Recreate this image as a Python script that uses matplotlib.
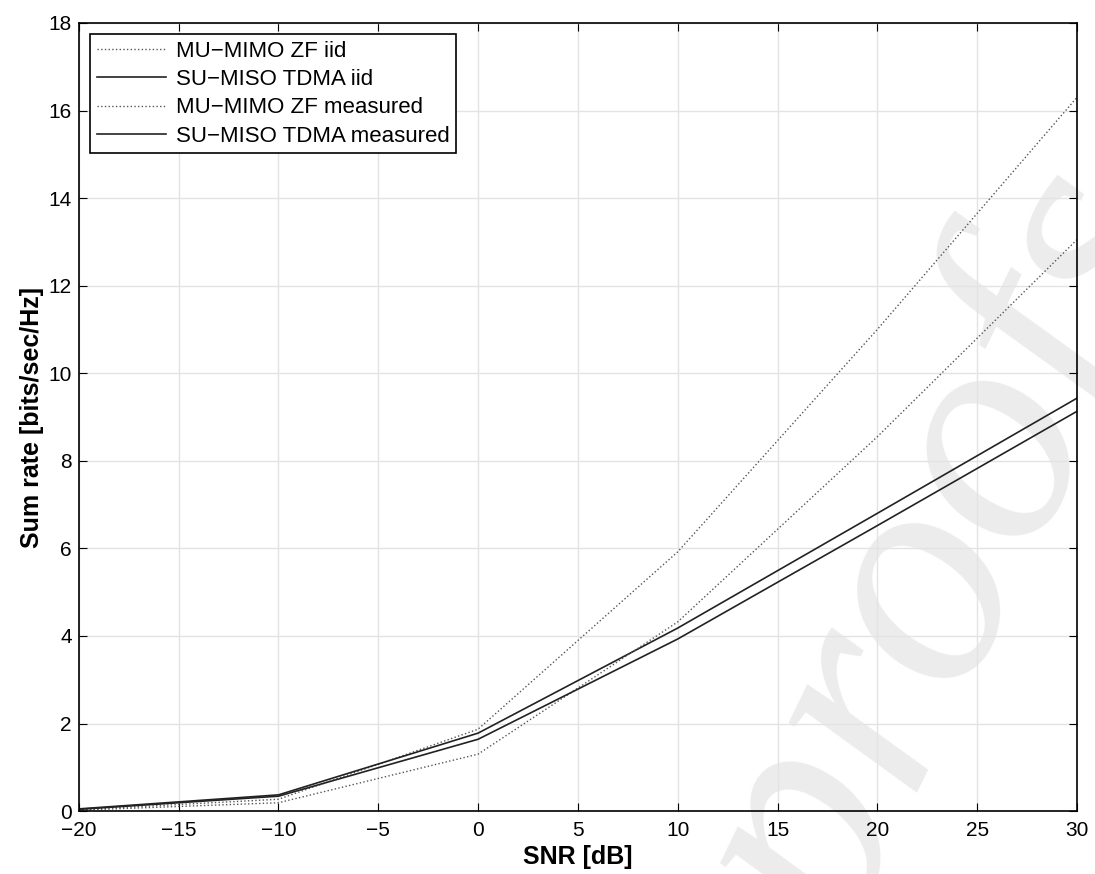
import numpy as np
import matplotlib.pyplot as plt

plt.rcParams['font.family'] = ['Liberation Sans', 'DejaVu Sans']

snr = [-20, -10, 0, 10, 20, 30]
mu_zf_iid = [0.03, 0.27, 1.87, 5.92, 11.0, 16.3]
su_tdma_iid = [0.05, 0.37, 1.78, 4.18, 6.80, 9.43]
mu_zf_meas = [0.02, 0.19, 1.30, 4.32, 8.55, 13.05]
su_tdma_meas = [0.04, 0.34, 1.64, 3.93, 6.52, 9.13]

fig = plt.figure(figsize=(10.95, 8.74), dpi=100)
ax = fig.add_axes([0.072, 0.072, 0.9115, 0.9017])
ax.patch.set_alpha(0)

# faint watermark behind the axes
fig.text(0.875, 0.348, 'proofs', family='Liberation Serif', style='italic',
         fontsize=228, color='#ececec', rotation=64, ha='center', va='center',
         zorder=-1)

ax.plot(snr, mu_zf_iid, ':', color='#555555', lw=1.0, label='MU\u2212MIMO ZF iid')
ax.plot(snr, su_tdma_iid, '-', color='#222222', lw=1.2, label='SU\u2212MISO TDMA iid')
ax.plot(snr, mu_zf_meas, ':', color='#555555', lw=1.0, label='MU\u2212MIMO ZF measured')
ax.plot(snr, su_tdma_meas, '-', color='#222222', lw=1.2, label='SU\u2212MISO TDMA measured')

ax.set_xlim(-20, 30)
ax.set_ylim(0, 18)
ax.set_xticks(np.arange(-20, 31, 5))
ax.set_yticks(np.arange(0, 19, 2))
ax.tick_params(axis='both', direction='in', top=True, right=True, labelsize=15, length=6)
ax.tick_params(axis='x', pad=7)
ax.tick_params(axis='y', pad=5)
ax.grid(True, color='#e3e3e3', lw=1)
ax.set_axisbelow(True)
for s in ax.spines.values():
    s.set_linewidth(1.2)

ax.set_xlabel('SNR [dB]', fontsize=18, fontweight='bold', labelpad=4)
ax.set_ylabel('Sum rate [bits/sec/Hz]', fontsize=18, fontweight='bold', labelpad=3)

leg = ax.legend(loc='upper left', fontsize=16, fancybox=False, framealpha=1,
                edgecolor='black', handlelength=3.1, handletextpad=0.45,
                borderaxespad=0.5, labelspacing=0.33, borderpad=0.3)
leg.get_frame().set_linewidth(1.2)

fig.savefig('out.png', dpi=100)
